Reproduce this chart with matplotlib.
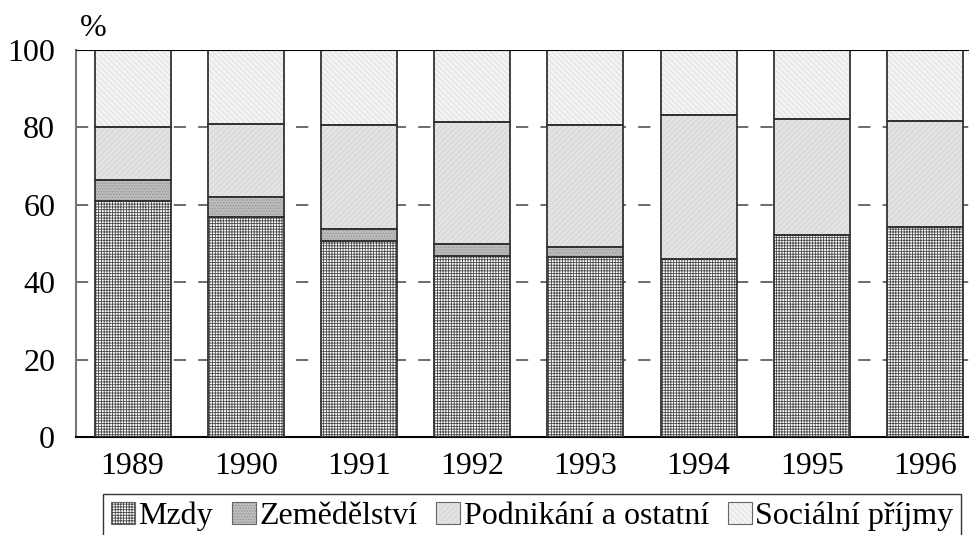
import numpy as np
import matplotlib.pyplot as plt

plt.rcParams['font.family'] = ['Liberation Serif', 'DejaVu Serif']
plt.rcParams['hatch.linewidth'] = 0.6

# Shares of household income (%)
years = ['1989', '1990', '1991', '1992', '1993', '1994', '1995', '1996']
mzdy = [61.0, 56.9, 50.6, 46.8, 46.5, 46.0, 52.2, 54.3]
zemedelstvi = [5.4, 5.0, 3.2, 3.0, 2.6, 0.0, 0.0, 0.0]
podnikani = [13.7, 19.1, 26.7, 31.7, 31.6, 37.2, 30.0, 27.4]
socialni = [19.9, 19.0, 19.5, 18.5, 19.3, 16.8, 17.8, 18.3]

labels = ['Mzdy', 'Zemědělství', 'Podnikání a ostatní', 'Sociální příjmy']
series = [mzdy, zemedelstvi, podnikani, socialni]
faces = ['white', '#bcbcbc', '#e3e3e3', '#f3f3f3']
hatches = ['++++++', '......', '//////', '\\\\\\\\\\\\']
hcolors = ['#4a4a4a', '#959595', '#d2d2d2', '#dedede']

fig = plt.figure(figsize=(9.7, 5.35), dpi=100)
ax = fig.add_axes([76 / 970, 98 / 535, 905.6 / 970, 387 / 535])

x = np.arange(len(years))
w = 0.67
bottom = np.zeros(len(years))
handles = []
for vals, lab, fc, h, hc in zip(series, labels, faces, hatches, hcolors):
    vals = np.array(vals)
    ax.bar(x, vals, w, bottom=bottom, color=fc, hatch=h, edgecolor=hc,
           linewidth=0, zorder=2)
    ax.bar(x, vals, w, bottom=bottom, fill=False, edgecolor='#333333',
           linewidth=1.3, zorder=3)
    bottom += vals
    fill = plt.Rectangle((0, 0), 1, 1, facecolor=fc, hatch=h,
                         edgecolor=hc, linewidth=0)
    outline = plt.Rectangle((0, 0), 1, 1, fill=False, edgecolor='#666666',
                            linewidth=0.8)
    handles.append((fill, outline))

ax.set_xlim(-0.5, 7.5)
ax.set_ylim(0, 100)
ax.set_yticks([0, 20, 40, 60, 80, 100])
ax.set_xticks(x)
ax.set_xticklabels(years)
ax.tick_params(axis='both', length=0, labelsize=23)
ax.tick_params(axis='y', pad=15)
ax.tick_params(axis='x', pad=11)

for yv in [20, 40, 60, 80]:
    ax.axhline(yv, color='#444444', linewidth=1.1, dashes=(8, 8), zorder=1)
ax.axhline(100, color='black', linewidth=1.5, zorder=4)

ax.spines['right'].set_visible(False)
ax.spines['top'].set_visible(False)
ax.spines['left'].set_color('#777777')
ax.spines['left'].set_linewidth(1.5)
ax.spines['bottom'].set_linewidth(1.5)

fig.text(80 / 970, 1 - 28 / 535, '%', fontsize=23, va='center', ha='left')

leg = fig.legend(handles, labels, loc='upper left', ncol=4,
                 bbox_to_anchor=(103 / 970, 1 - 494 / 535), borderaxespad=0,
                 fontsize=23, frameon=True, fancybox=False, edgecolor='black',
                 handlelength=0.75, handleheight=0.7, handletextpad=0.1,
                 columnspacing=0.6, borderpad=0.25)
leg.get_frame().set_linewidth(1.0)

fig.savefig('out.png', dpi=100)
